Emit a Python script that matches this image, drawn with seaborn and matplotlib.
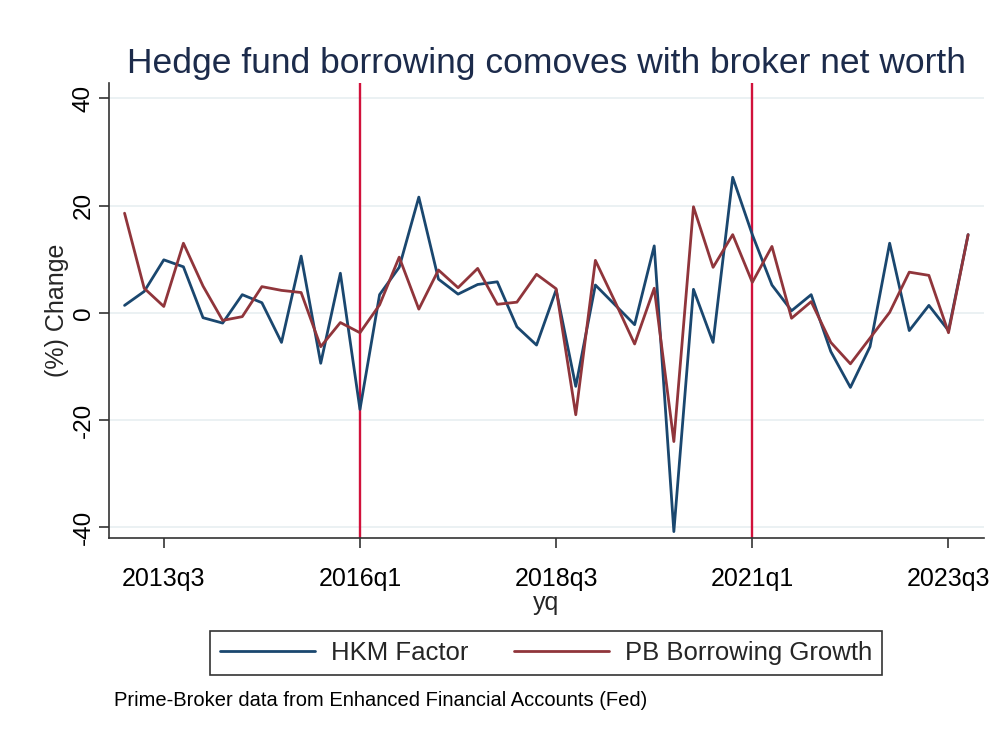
import matplotlib
matplotlib.use("Agg")
import matplotlib.pyplot as plt
import seaborn as sns
import pandas as pd
from matplotlib.lines import Line2D

quarters = [
    "2013q1", "2013q2", "2013q3", "2013q4", "2014q1", "2014q2", "2014q3", "2014q4",
    "2015q1", "2015q2", "2015q3", "2015q4", "2016q1", "2016q2", "2016q3", "2016q4",
    "2017q1", "2017q2", "2017q3", "2017q4", "2018q1", "2018q2", "2018q3", "2018q4",
    "2019q1", "2019q2", "2019q3", "2019q4", "2020q1", "2020q2", "2020q3", "2020q4",
    "2021q1", "2021q2", "2021q3", "2021q4", "2022q1", "2022q2", "2022q3", "2022q4",
    "2023q1", "2023q2", "2023q3", "2023q4",
]

hkm_factor = [
    1.4, 4.0, 9.9, 8.6, -0.9, -1.9, 3.4, 1.9, -5.5, 10.6, -9.4, 7.4,
    -18.0, 3.4, 8.5, 21.6, 6.3, 3.5, 5.3, 5.8, -2.6, -6.0, 4.3, -13.7,
    5.2, 1.5, -2.2, 12.5, -40.8, 4.4, -5.5, 25.3, 14.6, 5.2, 0.4, 3.4,
    -7.2, -13.9, -6.3, 13.0, -3.3, 1.4, -3.3, 14.6,
]

pb_growth = [
    18.6, 4.6, 1.2, 13.0, 5.0, -1.4, -0.7, 4.9, 4.2, 3.8, -6.3, -1.8,
    -3.7, 1.5, 10.4, 0.7, 8.0, 4.7, 8.3, 1.6, 2.0, 7.2, 4.5, -19.0,
    9.8, 2.1, -5.8, 4.6, -24.0, 19.8, 8.5, 14.6, 5.7, 12.4, -1.0, 2.1,
    -5.5, -9.5, -4.7, 0.1, 7.6, 7.0, -3.7, 14.6,
]

series_names = ["HKM Factor", "PB Borrowing Growth"]
xtick_labels = ["2013q3", "2016q1", "2018q3", "2021q1", "2023q3"]
ytick_values = [-40, -20, 0, 20, 40]
vline_quarters = ["2016q1", "2021q1"]

sns.set_theme(style="white")
plt.rcParams["font.family"] = ["Liberation Sans", "DejaVu Sans"]

t = list(range(len(quarters)))
df = pd.DataFrame({
    "t": t * 2,
    "value": hkm_factor + pb_growth,
    "series": [series_names[0]] * len(quarters) + [series_names[1]] * len(quarters),
})

colors = {"HKM Factor": "#1a476f", "PB Borrowing Growth": "#90353b"}

fig = plt.figure(figsize=(10.08, 7.34), dpi=100)
ax = fig.add_axes([0.108, 0.267, 0.868, 0.62])

for yv in ytick_values:
    ax.axhline(yv, color="#e9f0f2", lw=1.3, zorder=0)

for q in vline_quarters:
    ax.axvline(quarters.index(q), color="#d1113b", lw=1.7, zorder=1)

sns.lineplot(data=df, x="t", y="value", hue="series", palette=colors,
             hue_order=series_names, linewidth=2.0, ax=ax, legend=False, zorder=3)

ax.set_xlim(-0.8, 43.8)
ax.set_ylim(-42.0, 42.9)
ax.set_xticks([quarters.index(q) for q in xtick_labels])
ax.set_xticklabels(xtick_labels, fontsize=18)
ax.set_yticks(ytick_values)
ax.set_yticklabels([str(v) for v in ytick_values], fontsize=17.5, rotation=90, va="center")
ax.tick_params(axis="both", which="both", direction="out", length=7, width=1.2,
               color="#333333", labelcolor="black", bottom=True, left=True)
ax.tick_params(axis="x", pad=14)
ax.tick_params(axis="y", pad=3)

for side in ["top", "right"]:
    ax.spines[side].set_visible(False)
for side in ["left", "bottom"]:
    ax.spines[side].set_color("#333333")
    ax.spines[side].set_linewidth(1.2)

ax.set_xlabel("yq", fontsize=18, labelpad=0)
ax.set_ylabel("(%) Change", fontsize=18, labelpad=3)

ax.set_title("Hedge fund borrowing comoves with broker net worth",
             fontsize=25.5, color="#1c2b4b", pad=7)

handles = [Line2D([], [], color=colors[n], lw=2.0) for n in series_names]
leg = fig.legend(handles, series_names, ncol=2, loc="center",
                 bbox_to_anchor=(546 / 1008, 1 - 653 / 734), fontsize=18.5,
                 frameon=True, fancybox=False, handlelength=3.7, columnspacing=1.8,
                 handletextpad=0.6, borderpad=0.4)
leg.get_frame().set_edgecolor("black")
leg.get_frame().set_linewidth(1.2)

fig.text(114 / 1008, 1 - 700 / 734, "Prime-Broker data from Enhanced Financial Accounts (Fed)",
         fontsize=14.5, va="center", ha="left", color="black")

fig.savefig("out.png", dpi=100, facecolor="white")
